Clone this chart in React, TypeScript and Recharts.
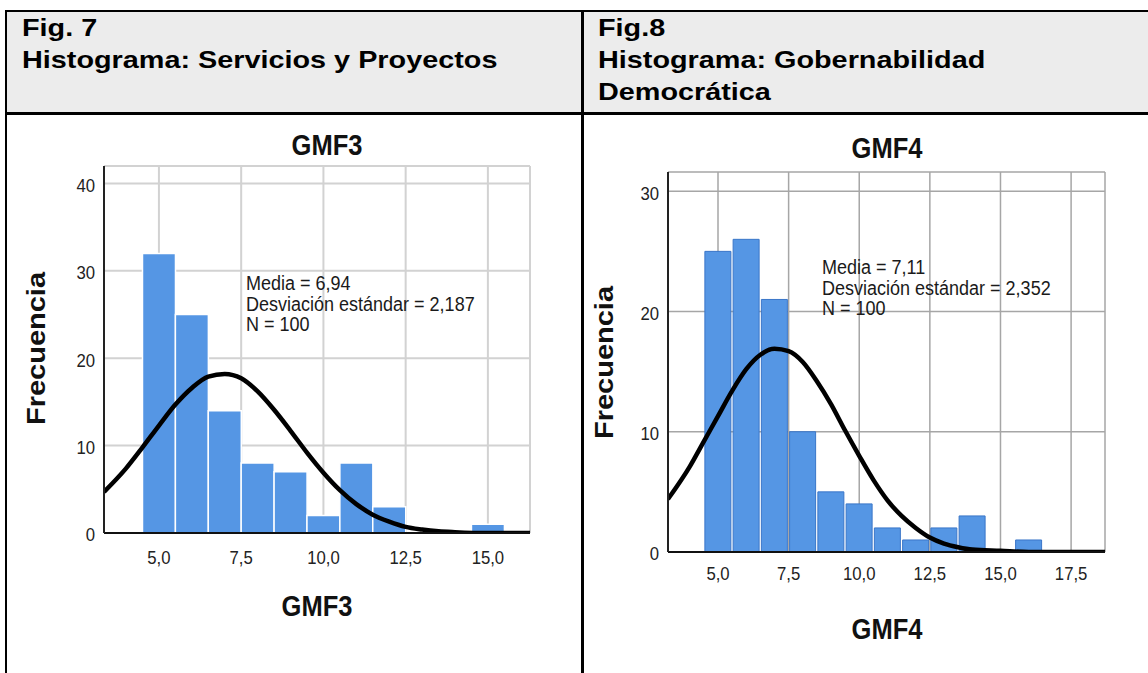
import React from 'react';
import { ComposedChart, Bar, Line, XAxis, YAxis, CartesianGrid } from 'recharts';

// GMF3 – Servicios y Proyectos
const gmf3Bins = [5, 6, 7, 8, 9, 10, 11, 12, 13, 14, 15];
const gmf3Counts = [32, 25, 14, 8, 7, 2, 8, 3, 0, 0, 1];
const gmf3CurveX = [3.33, 4, 4.5, 5, 5.5, 6, 6.5, 7, 7.5, 8, 8.5, 9, 9.5, 10, 10.5, 11, 11.5, 12, 12.5, 13, 13.5, 14, 15, 16.28];
const gmf3CurveY = [4.7, 7.4, 9.8, 12.3, 14.7, 16.6, 17.9, 18.2, 17.7, 16.2, 14.1, 11.7, 9.2, 6.9, 4.9, 3.3, 2.1, 1.3, 0.7, 0.4, 0.2, 0.1, 0, 0];
const gmf3XTicks = [5, 7.5, 10, 12.5, 15];
const gmf3YTicks = [0, 10, 20, 30, 40];
const gmf3Stats = ['Media = 6,94', 'Desviación estándar = 2,187', 'N = 100'];

// GMF4 – Gobernabilidad Democrática
const gmf4Bins = [5, 6, 7, 8, 9, 10, 11, 12, 13, 14, 15, 16];
const gmf4Counts = [25, 26, 21, 10, 5, 4, 2, 1, 2, 3, 0, 1];
const gmf4CurveX = [3.23, 4, 4.5, 5, 5.5, 6, 6.5, 7, 7.5, 8, 8.5, 9, 9.5, 10, 10.5, 11, 11.5, 12, 12.5, 13, 13.5, 14, 15, 16, 18.7];
const gmf4CurveY = [4.4, 7.1, 9.2, 11.3, 13.4, 15.2, 16.4, 16.9, 16.7, 15.8, 14.2, 12.3, 10.1, 8.0, 6.0, 4.3, 3.0, 2.0, 1.2, 0.7, 0.4, 0.2, 0.1, 0, 0];
const gmf4XTicks = [5, 7.5, 10, 12.5, 15, 17.5];
const gmf4YTicks = [0, 10, 20, 30];
const gmf4Stats = ['Media = 7,11', 'Desviación estándar = 2,352', 'N = 100'];

const FONT = '"Liberation Sans", Arial, sans-serif';
const SX = 0.88; // the pasted SPSS images are a bit squeezed horizontally
const TICK_FS = 19;
const fmt = (v: number) => v.toFixed(1).replace('.', ',');

const XTick = ({ x, y, payload }: any) => (
  <text transform={`translate(${x},${y}) scale(${SX},1)`} textAnchor="middle" dy={0.71 * TICK_FS} fill="#222" fontSize={TICK_FS} fontFamily={FONT}>
    {fmt(payload.value)}
  </text>
);

const YTick = ({ x, y, payload }: any) => (
  <text transform={`translate(${x},${y}) scale(${SX},1)`} textAnchor="end" dy={8.3} fill="#222" fontSize={TICK_FS} fontFamily={FONT}>
    {payload.value}
  </text>
);

interface HistProps {
  bins: number[];
  counts: number[];
  curveX: number[];
  curveY: number[];
  xTicks: number[];
  yTicks: number[];
  xDomain: [number, number];
  yDomain: [number, number];
  left: number;
  top: number;
  margin: { top: number; right: number; bottom: number; left: number };
  yAxisWidth: number;
  xTickMargin: number;
  barGap: number;
  barStroke: string;
  barStrokeWidth: number;
  gridColor: string;
  gridWidth: number;
}

function Histogram(p: HistProps) {
  const bars = p.bins.map((x, i) => ({ x, count: p.counts[i] }));
  const curve = p.curveX.map((x, i) => ({ x, normal: p.curveY[i] }));
  return (
    <div style={{ position: 'absolute', left: p.left, top: p.top }}>
      <ComposedChart width={560} height={540} data={bars} margin={p.margin} barCategoryGap={p.barGap}>
        <CartesianGrid stroke={p.gridColor} strokeWidth={p.gridWidth} />
        <Bar dataKey="count" fill="#5596e4" stroke={p.barStroke} strokeWidth={p.barStrokeWidth} isAnimationActive={false} />
        <XAxis
          dataKey="x"
          type="number"
          domain={p.xDomain}
          ticks={p.xTicks}
          allowDataOverflow
          height={60}
          tickLine={false}
          tickSize={6}
          tickMargin={p.xTickMargin}
          axisLine={{ stroke: '#111', strokeWidth: 2 }}
          tick={<XTick />}
        />
        {/* separate hidden axis so the fine curve sampling does not shrink the bins */}
        <XAxis xAxisId="curve" dataKey="x" type="number" domain={p.xDomain} allowDataOverflow hide />
        <YAxis
          type="number"
          domain={p.yDomain}
          ticks={p.yTicks}
          allowDataOverflow
          width={p.yAxisWidth}
          tickLine={false}
          tickSize={6}
          tickMargin={3}
          axisLine={{ stroke: '#222', strokeWidth: 2 }}
          tick={<YTick />}
        />
        <Line xAxisId="curve" data={curve} dataKey="normal" type="monotone" stroke="#000" strokeWidth={4.5} dot={false} activeDot={false} isAnimationActive={false} />
      </ComposedChart>
    </div>
  );
}

function Stats({ lines, left, top }: { lines: string[]; left: number; top: number }) {
  return (
    <div style={{ position: 'absolute', left, top, fontFamily: FONT, fontSize: 20, lineHeight: '20.5px', color: '#1a1a1a', whiteSpace: 'nowrap', transform: 'scaleX(0.9)', transformOrigin: '0 0' }}>
      {lines.map((l) => <div key={l}>{l}</div>)}
    </div>
  );
}

function BoldLabel({ text, cx, cy, rotate = false, size = 29 }: { text: string; cx: number; cy: number; rotate?: boolean; size?: number }) {
  return (
    <div
      style={{
        position: 'absolute', left: cx - 100, top: cy - size / 2, width: 200, height: size, textAlign: 'center',
        fontFamily: FONT, fontWeight: 700, fontSize: size, lineHeight: `${size}px`, color: '#111', whiteSpace: 'nowrap',
        transform: rotate ? `scaleX(${SX}) rotate(-90deg)` : `scaleX(${SX})`,
      }}
    >
      {text}
    </div>
  );
}

const headerText: React.CSSProperties = {
  position: 'absolute', top: 12, fontFamily: FONT, fontWeight: 700, fontSize: 24, lineHeight: '32px', color: '#000', whiteSpace: 'nowrap',
  transform: 'scaleX(1.2)', transformOrigin: '0 0',
};

export default function App() {
  return (
    <div style={{ position: 'absolute', left: 0, top: 0, width: 1148, height: 673, background: '#fff', overflow: 'hidden' }}>
      {/* table header */}
      <div style={{ position: 'absolute', left: 6, top: 11, width: 1142, height: 102, background: '#ececec' }} />
      <div style={{ position: 'absolute', left: 5, top: 10, width: 1143, height: 2, background: '#000' }} />
      <div style={{ position: 'absolute', left: 5, top: 112, width: 1143, height: 3, background: '#000' }} />
      <div style={{ position: 'absolute', left: 5, top: 10, width: 2, height: 663, background: '#000' }} />
      <div style={{ position: 'absolute', left: 581, top: 10, width: 2.5, height: 663, background: '#000' }} />
      <div style={{ ...headerText, left: 22 }}>
        Fig. 7<br />Histograma: Servicios y Proyectos
      </div>
      <div style={{ ...headerText, left: 598 }}>
        Fig.8<br />Histograma: Gobernabilidad<br />Democrática
      </div>

      <Histogram
        bins={gmf3Bins}
        counts={gmf3Counts}
        curveX={gmf3CurveX}
        curveY={gmf3CurveY}
        xTicks={gmf3XTicks}
        yTicks={gmf3YTicks}
        xDomain={[3.33, 16.28]}
        yDomain={[0, 42]}
        left={0}
        top={120}
        margin={{ top: 46, right: 30, bottom: 67, left: 10 }}
        yAxisWidth={94}
        xTickMargin={11}
        barGap={0}
        barStroke="#ffffff"
        barStrokeWidth={1.5}
        gridColor="#d2d2d2"
        gridWidth={2}
      />
      <BoldLabel text="GMF3" cx={327} cy={145} />
      <BoldLabel text="GMF3" cx={317} cy={606} />
      <BoldLabel text="Frecuencia" cx={37} cy={348} rotate />
      <Stats lines={gmf3Stats} left={246} top={273} />

      <Histogram
        bins={gmf4Bins}
        counts={gmf4Counts}
        curveX={gmf4CurveX}
        curveY={gmf4CurveY}
        xTicks={gmf4XTicks}
        yTicks={gmf4YTicks}
        xDomain={[3.23, 18.7]}
        yDomain={[0, 31.6]}
        left={580}
        top={120}
        margin={{ top: 52, right: 35, bottom: 48, left: 4 }}
        yAxisWidth={84}
        xTickMargin={8}
        barGap={1}
        barStroke="#3a76c8"
        barStrokeWidth={1}
        gridColor="#a6a6a6"
        gridWidth={1.5}
      />
      <BoldLabel text="GMF4" cx={887} cy={148} />
      <BoldLabel text="GMF4" cx={887} cy={629} />
      <BoldLabel text="Frecuencia" cx={605} cy={362} rotate />
      <Stats lines={gmf4Stats} left={822} top={257} />
    </div>
  );
}
